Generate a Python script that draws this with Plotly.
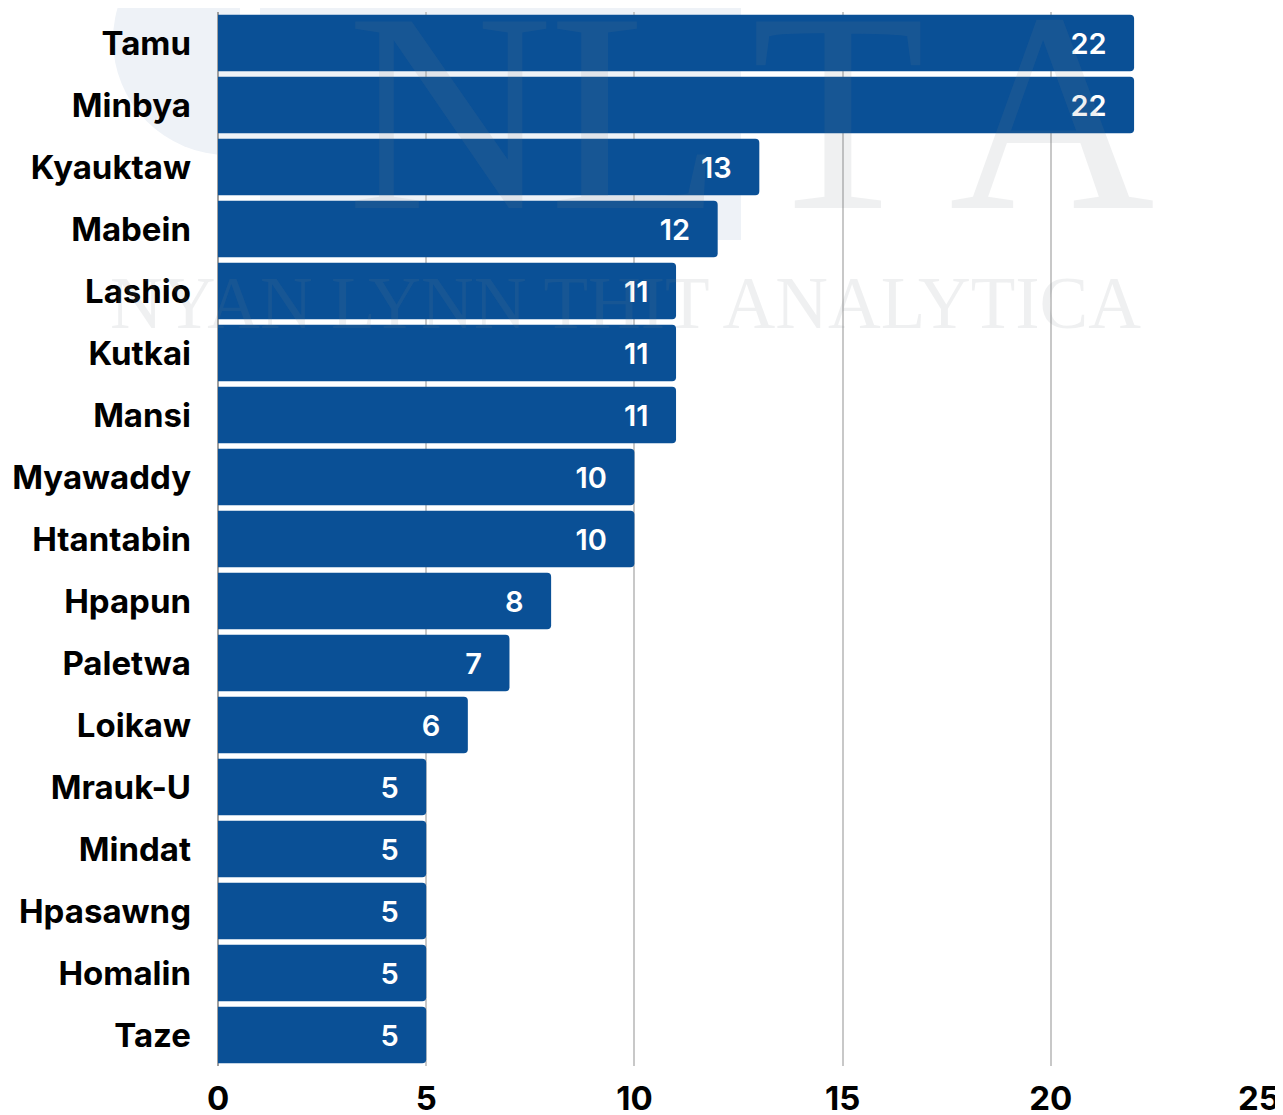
import plotly.graph_objects as go

categories = ["Tamu", "Minbya", "Kyauktaw", "Mabein", "Lashio", "Kutkai", "Mansi",
              "Myawaddy", "Htantabin", "Hpapun", "Paletwa", "Loikaw", "Mrauk-U",
              "Mindat", "Hpasawng", "Homalin", "Taze"]
values = [22, 22, 13, 12, 11, 11, 11, 10, 10, 8, 7, 6, 5, 5, 5, 5, 5]
x_ticks = [0, 5, 10, 15, 20, 25]

OFF = 8  # page body margin
W, H = 1283 - OFF, 1115 - OFF
L, R, T, B = 210, 24, 4, 49
PW, PH = W - L - R, H - T - B

def px(x):
    return (x - OFF - L) / PW

def py(y):
    return 1 - (y - OFF - T) / PH

BAR = "#0A5096"
FONT = "Inter"

fig = go.Figure()
fig.add_trace(go.Bar(
    x=values, y=categories, orientation="h",
    marker=dict(color=BAR, line=dict(width=0)),
    text=[f"{v}\u2007\u2009" for v in values],
    textposition="inside", insidetextanchor="end",
    textfont=dict(family=FONT, size=29, color="white", weight=600),
    hoverinfo="skip", cliponaxis=False,
))

shapes = [
    dict(type="circle", xref="paper", yref="paper", layer="below",
         x0=px(113), x1=px(343), y0=py(155), y1=py(-75),
         fillcolor="#eef2f7", line=dict(width=0)),
    dict(type="rect", xref="paper", yref="paper", layer="below",
         x0=px(260), x1=px(741), y0=py(240), y1=py(0),
         fillcolor="#eef2f7", line=dict(width=0)),
    dict(type="rect", xref="paper", yref="paper", layer="below",
         x0=px(240), x1=px(260), y0=py(15), y1=py(0),
         fillcolor="white", line=dict(width=0)),
]

wm = "rgba(120,130,140,0.12)"
annotations = []
for letter, cx in [("N", 450), ("L", 636), ("T", 838), ("A", 1052)]:
    annotations.append(dict(text=letter, xref="paper", yref="paper",
                            x=px(cx), y=py(112), xanchor="center", yanchor="middle",
                            showarrow=False,
                            font=dict(family="Liberation Serif", size=285, color=wm)))
annotations.append(dict(text="NYAN LYNN THIT ANALYTICA", xref="paper", yref="paper",
                        x=px(625), y=py(303), xanchor="center", yanchor="middle",
                        showarrow=False,
                        font=dict(family="Liberation Serif", size=73, color=wm)))

fig.update_layout(
    width=W, height=H,
    margin=dict(l=L, r=R, t=T, b=B),
    paper_bgcolor="white", plot_bgcolor="rgba(0,0,0,0)",
    bargap=0.09, barcornerradius=4,
    showlegend=False,
    shapes=shapes, annotations=annotations,
    xaxis=dict(range=[0, 25], tickvals=x_ticks, showgrid=True, automargin=False,
               gridcolor="#c8c8c8", gridwidth=1.5,
               zeroline=True, zerolinecolor="#a0a0a0", zerolinewidth=1.5,
               showline=False, ticks="", ticklabelstandoff=10,
               tickfont=dict(family=FONT, size=33, color="black", weight=700)),
    yaxis=dict(autorange="reversed", showgrid=False, showline=False, ticks="",
               automargin=False, ticklabelstandoff=26,
               tickfont=dict(family=FONT, size=33, color="black", weight=700)),
)

fig.write_html("out.html")
